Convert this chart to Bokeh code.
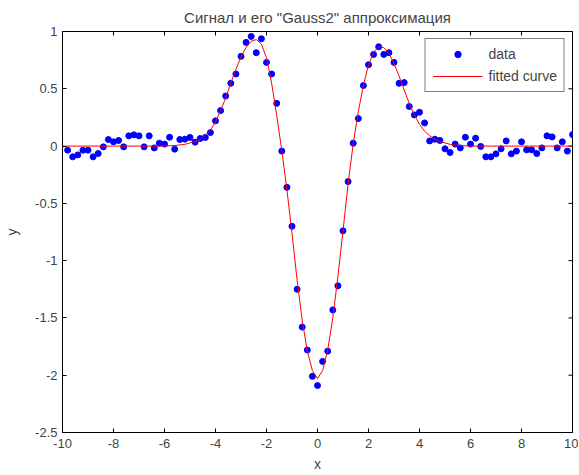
import math
from bokeh.plotting import figure
from bokeh.models import Range1d, FixedTicker, Legend, LegendItem, ColumnDataSource
from bokeh.embed import file_html
from bokeh.resources import INLINE

# ---- data ----
data_x = [round(-9.8 + 0.2 * i, 1) for i in range(100)]
data_y = [
    -0.036, -0.094, -0.077, -0.036, -0.036, -0.094, -0.065, -0.007, 0.057, 0.037,
    0.049, -0.007, 0.089, 0.098, 0.089, -0.007, 0.089, -0.016, 0.025, 0.017,
    0.077, -0.027, 0.057, 0.060, 0.075, 0.034, 0.066, 0.075, 0.118, 0.220,
    0.310, 0.437, 0.548, 0.629, 0.783, 0.905, 0.957, 0.815, 0.937, 0.730,
    0.629, 0.373, -0.044, -0.360, -0.700, -1.250, -1.580, -1.780, -2.010, -2.090,
    -1.880, -1.790, -1.430, -1.220, -0.740, -0.310, 0.025, 0.240, 0.528, 0.710,
    0.800, 0.867, 0.800, 0.815, 0.730, 0.548, 0.554, 0.345, 0.272, 0.295,
    0.202, 0.045, 0.060, 0.049, -0.024, -0.056, 0.017, -0.016, 0.077, 0.017,
    0.069, -0.003, -0.094, -0.094, -0.068, -0.024, 0.045, -0.068, -0.044, 0.037,
    -0.033, -0.033, -0.065, -0.016, 0.089, 0.080, -0.016, 0.037, -0.044, 0.100,
]

curve_x = [-10.0, -6.0, -5.6, -5.2, -4.8, -4.6, -4.4, -4.2, -4.0, -3.8, -3.6, -3.4, -3.2,
           -3.0, -2.8, -2.6, -2.4, -2.2, -2.0, -1.8, -1.6, -1.4, -1.2, -1.0, -0.8, -0.6,
           -0.4, -0.2, 0.0, 0.2, 0.4, 0.6, 0.8, 1.0, 1.2, 1.4, 1.6, 1.8, 2.0, 2.2, 2.4,
           2.6, 2.8, 3.0, 3.2, 3.4, 3.6, 3.8, 4.0, 4.2, 4.4, 4.6, 4.8, 5.2, 5.6, 6.0, 10.0]
curve_y = [0.0, 0.0, 0.005, 0.015, 0.04, 0.06, 0.095, 0.14, 0.21, 0.31, 0.42, 0.55, 0.67,
           0.78, 0.86, 0.915, 0.93, 0.89, 0.77, 0.55, 0.27, -0.04, -0.38, -0.76, -1.17, -1.52,
           -1.79, -1.96, -2.03, -1.96, -1.78, -1.50, -1.14, -0.74, -0.33, 0.02, 0.30, 0.53, 0.71, 0.82, 0.865,
           0.86, 0.81, 0.72, 0.61, 0.49, 0.37, 0.27, 0.19, 0.13, 0.09, 0.06, 0.04, 0.015, 0.005, 0.0, 0.0]

x_ticks = [-10, -8, -6, -4, -2, 0, 2, 4, 6, 8, 10]
y_ticks = [-2.5, -2, -1.5, -1, -0.5, 0, 0.5, 1]
title_text = 'Сигнал и его "Gauss2" аппроксимация'
legend_labels = ["data", "fitted curve"]

FONT = "Liberation Sans"
X0, X1 = x_ticks[0], x_ticks[-1]
Y0, Y1 = y_ticks[0], y_ticks[-1]

p = figure(width=578, height=474, output_backend="svg", toolbar_location=None,
           x_range=Range1d(X0, X1), y_range=Range1d(Y0, Y1),
           min_border_left=62, min_border_right=6, min_border_top=31, min_border_bottom=41,
           title=title_text)

p.title.text_font = FONT
p.title.text_font_size = "15px"
p.title.text_font_style = "normal"
p.title.align = "center"
p.title.standoff = 12

p.xgrid.visible = False
p.ygrid.visible = False
p.outline_line_color = "black"
p.outline_line_width = 1

for ax, ticks, lab in ((p.xaxis[0], x_ticks, "x"), (p.yaxis[0], y_ticks, "y")):
    ax.ticker = FixedTicker(ticks=ticks)
    ax.major_label_overrides = {t: f"{t:g}" for t in ticks}
    ax.axis_label = lab
    ax.axis_label_text_font = FONT
    ax.axis_label_text_font_style = "normal"
    ax.axis_label_text_font_size = "14px"
    ax.major_label_text_font = FONT
    ax.major_label_text_font_size = "13px"
    ax.major_tick_in = 4
    ax.major_tick_out = 0
    ax.minor_tick_line_color = None
    ax.axis_line_color = "black"
    ax.major_tick_line_color = "black"
p.xaxis[0].major_label_standoff = 6
p.xaxis[0].axis_label_standoff = 5
p.yaxis[0].major_label_standoff = 5
p.yaxis[0].axis_label_standoff = 12

# inward ticks on the top and right edges (box style)
p.scatter(x_ticks, [Y1] * len(x_ticks), marker="dash", angle=math.pi / 2, size=8,
          line_color="black", line_width=1)
p.scatter([X1] * len(y_ticks), y_ticks, marker="dash", size=8,
          line_color="black", line_width=1)

src_pts = ColumnDataSource(dict(x=data_x, y=data_y))
src_fit = ColumnDataSource(dict(x=curve_x, y=curve_y))

r_pts = p.scatter("x", "y", source=src_pts, size=6, color="#0000FF", line_color="#0000FF")
r_fit = p.line("x", "y", source=src_fit, line_color="#FF0000", line_width=1)

legend = Legend(items=[LegendItem(label=legend_labels[0], renderers=[r_pts]),
                       LegendItem(label=legend_labels[1], renderers=[r_fit])],
                location="top_right")
legend.margin = 7
legend.padding = 7
legend.spacing = 6
legend.glyph_width = 50
legend.glyph_height = 16
legend.label_height = 16
legend.label_standoff = 6
legend.label_text_font = FONT
legend.label_text_font_size = "14px"
legend.border_line_color = "black"
legend.border_line_width = 1
legend.background_fill_color = "white"
legend.background_fill_alpha = 1
p.add_layout(legend, "center")

open("out.html", "w").write(file_html(p, INLINE))
